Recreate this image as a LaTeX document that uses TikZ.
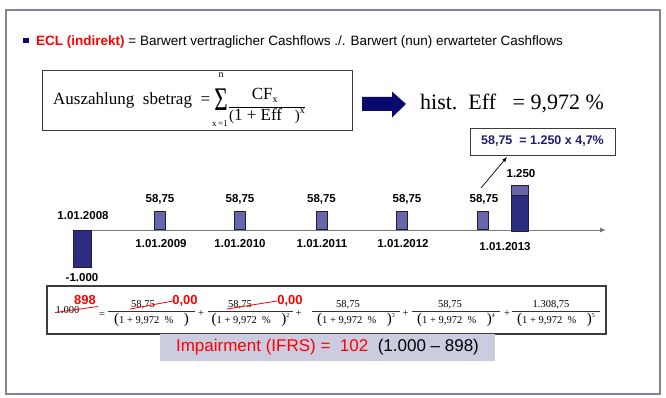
\documentclass[tikz,border=0pt]{standalone}
\usepackage{fontspec}
\setmainfont{Liberation Serif}
\setsansfont{Liberation Sans}
\usetikzlibrary{arrows.meta}
\definecolor{framegray}{RGB}{128,132,148}
\definecolor{navy}{RGB}{10,10,110}
\definecolor{txtnavy}{RGB}{30,30,110}
\definecolor{barlight}{RGB}{102,102,168}
\definecolor{bardark}{RGB}{44,44,128}
\definecolor{barline}{RGB}{30,30,60}
\definecolor{axisgray}{RGB}{120,120,120}
\definecolor{boxgray}{RGB}{60,60,60}
\definecolor{lav}{RGB}{204,204,224}
\definecolor{ered}{RGB}{255,0,0}
\tikzset{
  lbl/.style={font=\sffamily\bfseries\fontsize{11.5}{13}\selectfont, inner sep=0},
  lbar/.style={draw=barline, line width=0.6pt, fill=barlight, minimum width=11pt, minimum height=18pt, inner sep=0, anchor=south},
  dbar/.style={draw=barline, line width=0.6pt, fill=bardark, inner sep=0},
  fnum/.style={font=\fontsize{10.5}{12}\selectfont, inner sep=0, anchor=base},
  fden/.style={font=\fontsize{10.5}{12}\selectfont, inner xsep=0, inner ysep=1.5pt, anchor=north},
  fbar/.style={line width=0.5pt, black!80},
  redtxt/.style={font=\sffamily\bfseries\fontsize{13}{14}\selectfont, text=ered, inner sep=0, anchor=base},
  strike/.style={ered, line width=0.8pt},
  op/.style={font=\fontsize{10.5}{12}\selectfont, inner sep=0}
}
\newcommand{\bigpar}[1]{{\fontsize{15}{15}\selectfont #1}}
\begin{document}
\begin{tikzpicture}[x=1pt,y=-1pt]
\useasboundingbox (0,0) rectangle (666,398);
% outer frame
\node[draw=framegray, line width=1.4pt, minimum width=654pt, minimum height=384pt, inner sep=0] (frame) at (333,202) {};
% header
\node[fill=navy, minimum size=5.5pt, inner sep=0] (bul) at (26,40.5) {};
\node[anchor=base west, inner sep=0, font=\sffamily\fontsize{13.5}{15}\selectfont] (hdr) at (36,45.5)
  {\textcolor{ered}{\bfseries ECL (indirekt)} = Barwert vertraglicher Cashflows ./. Barwert (nun) erwarteter Cashflows};
% formula box
\node[draw=boxgray, line width=0.9pt, minimum width=310pt, minimum height=60pt, inner sep=0] (fbox) at (197,100) {};
\node[anchor=base west, inner sep=0, font=\fontsize{17}{19}\selectfont] (flhs) at (53,105) {Auszahlung\ \ sbetrag\ \ =};
\node[inner sep=0, font=\fontsize{22}{22}\selectfont] (sig) at (221,100) {\scalebox{1.05}[1.5]{Σ}};
\node[inner sep=0, font=\fontsize{10}{11}\selectfont] (sn) at (221,75) {n};
\node[inner sep=0, font=\fontsize{9}{10}\selectfont] (sx) at (220,124) {x\,=1};
\node[anchor=base, inner sep=0, font=\fontsize{17}{19}\selectfont] (cf) at (265,100) {CF\textsubscript{\fontsize{10}{10}\selectfont x}};
\node[anchor=north, minimum width=72pt, inner xsep=0, inner ysep=1pt, font=\fontsize{17}{19}\selectfont] (den) at (267,107)
  {\bigpar{(}1 + Eff\ \ \ \bigpar{)}\raisebox{7pt}{\fontsize{10}{10}\selectfont x}};
\draw[line width=0.7pt] (den.north west) -- (den.north east);
% block arrow
\fill[navy] (362,97) -- (392,97) -- (392,91.5) -- (406,104) -- (392,117.5) -- (392,111) -- (362,111) -- cycle;
\coordinate (arw) at (384,104);
\node[anchor=base west, inner sep=0, font=\fontsize{22}{24}\selectfont] (hist) at (420,110) {hist.\ \ Eff\ \ \ = 9,972 \%};
% small box
\node[draw=boxgray, line width=0.7pt, minimum width=145pt, minimum height=27pt, inner sep=0,
      font=\sffamily\bfseries\fontsize{12.5}{14}\selectfont, text=txtnavy] (calc) at (542.5,141.5) {58,75\ \ = 1.250 x 4,7\%};
% timeline
\coordinate (ax0) at (73,230);
\coordinate (ax1) at (606,230);
\draw[axisgray, line width=0.9pt, -{Latex[length=6pt,width=5pt]}] (ax0) -- (ax1);
% bars
\node[dbar, anchor=north, minimum width=18pt, minimum height=37pt] (b0) at (82,230) {};
\node[lbar] (b1) at (160,230) {};
\node[lbar] (b2) at (240,230) {};
\node[lbar] (b3) at (321.5,230) {};
\node[lbar] (b4) at (402,230) {};
\node[lbar] (b5) at (482.5,230) {};
\node[dbar, anchor=south, minimum width=17pt, minimum height=36pt] (b6) at (519.5,232) {};
\node[draw=barline, line width=0.6pt, fill=barlight, anchor=south, minimum width=17pt, minimum height=10pt, inner sep=0] (b6t) at (b6.north) {};
% labels
\node[lbl] (l0) at (83,216) {1.01.2008};
\node[lbl] (v0) at (82,278) {-1.000};
\node[lbl] (v1) at (160,199) {58,75};
\node[lbl] (v2) at (240,199) {58,75};
\node[lbl] (v3) at (321.5,199) {58,75};
\node[lbl] (v4) at (407,199) {58,75};
\node[lbl] (v5) at (484,199) {58,75};
\node[lbl] (v6) at (521,174) {1.250};
\node[lbl] (d1) at (161,244) {1.01.2009};
\node[lbl] (d2) at (240,244) {1.01.2010};
\node[lbl] (d3) at (322,244) {1.01.2011};
\node[lbl] (d4) at (403,244) {1.01.2012};
\node[lbl] (d5) at (505,247) {1.01.2013};
\coordinate (pa) at (481,188);
\coordinate (pb) at (507,157);
\draw[line width=0.7pt, -{Latex[length=5pt,width=4pt]}] (pa) -- (pb);
% bottom formula box
\node[draw=boxgray, line width=1.2pt, minimum width=559pt, minimum height=48pt, inner sep=0] (bbox) at (326.5,310) {};
\node[fnum] (one) at (67.5,313) {1.000};
\node[redtxt] (r898) at (85,304) {898};
\coordinate (s0a) at (55,312.5);
\coordinate (s0b) at (98,306.5);
\draw[strike] (s0a) -- (s0b);
\node[op] (eq) at (102,315) {=};
% fraction 1
\node[fden, minimum width=87pt] (fd1) at (151.5,311) {\bigpar{(}1 + 9,972\ \ \%\ \ \ \ \bigpar{)}};
\draw[fbar] (fd1.north west) -- (fd1.north east);
\node[fnum] (fn1) at (143,307.5) {58,75};
\node[redtxt] (r1) at (185,304) {0,00};
\coordinate (s1a) at (130,309);
\coordinate (s1b) at (173,301);
\draw[strike] (s1a) -- (s1b);
\node[op] (p1) at (201,314) {+};
% fraction 2
\node[fden, minimum width=85pt] (fd2) at (250.5,311) {\bigpar{(}1 + 9,972\ \ \%\ \ \ \ \bigpar{)}\raisebox{6pt}{\fontsize{6}{6}\selectfont 2}};
\draw[fbar] (fd2.north west) -- (fd2.north east);
\node[fnum] (fn2) at (240,307.5) {58,75};
\node[redtxt] (r2) at (290,304) {0,00};
\coordinate (s2a) at (227,309);
\coordinate (s2b) at (277,301);
\draw[strike] (s2a) -- (s2b);
\node[op] (p2) at (298.5,314) {+};
% fraction 3
\node[fden, minimum width=88pt] (fd3) at (356,311) {\bigpar{(}1 + 9,972\ \ \%\ \ \ \ \bigpar{)}\raisebox{6pt}{\fontsize{6}{6}\selectfont 3}};
\draw[fbar] (fd3.north west) -- (fd3.north east);
\node[fnum] (fn3) at (348,307.5) {58,75};
\node[op] (p3) at (405.5,314) {+};
% fraction 4
\node[fden, minimum width=88pt] (fd4) at (456,311) {\bigpar{(}1 + 9,972\ \ \%\ \ \ \ \bigpar{)}\raisebox{6pt}{\fontsize{6}{6}\selectfont 4}};
\draw[fbar] (fd4.north west) -- (fd4.north east);
\node[fnum] (fn4) at (450,307.5) {58,75};
\node[op] (p4) at (507,314) {+};
% fraction 5
\node[fden, minimum width=88pt] (fd5) at (556,311) {\bigpar{(}1 + 9,972\ \ \%\ \ \ \ \bigpar{)}\raisebox{6pt}{\fontsize{6}{6}\selectfont 5}};
\draw[fbar] (fd5.north west) -- (fd5.north east);
\node[fnum] (fn5) at (551,307.5) {1.308,75};
% impairment
\node[fill=lav, minimum width=335pt, minimum height=27pt, inner sep=0,
      font=\sffamily\fontsize{17}{19}\selectfont] (imp) at (327.5,347.5)
  {\textcolor{ered}{Impairment (IFRS) =\ \ 102}\ \ (1.000 – 898)};
\end{tikzpicture}
\end{document}
